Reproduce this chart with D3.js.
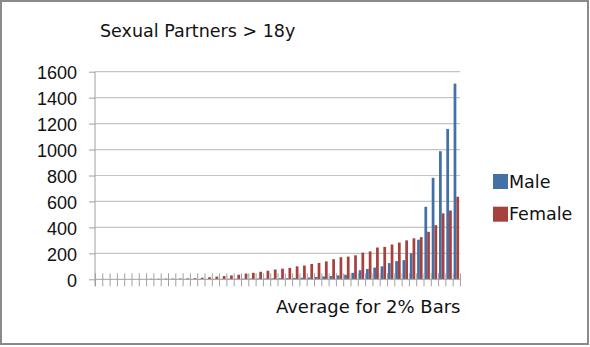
<!DOCTYPE html>
<html lang="en">
<head>
<meta charset="UTF-8" />
<title>Sexual Partners > 18y</title>
<script src="https://d3js.org/d3.v7.min.js"></script>
<style>
  body { margin: 0; background: #fff; }
  svg { display: block; }
  .grid line { stroke: #c4c4c4; stroke-width: 1.2px; }
  .axis path, .axis line { stroke: #a0a0a0; }
  .yaxis text { font-family: "Liberation Sans", Arial, sans-serif; font-size: 18px; fill: #111; }
</style>
</head>
<body>
<script>
// 50 buckets of 2% each, average partners per bucket
const series = ["Male", "Female"];
const colors = ["#4470a8", "#a6413e"];

const male = [
  0, 0, 0, 0, 0, 0, 0, 0, 0, 0,
  1, 1, 1, 2, 2, 2, 3, 3, 4, 4,
  5, 5, 6, 6, 7, 8, 9, 10, 12, 14,
  18, 22, 25, 30, 35, 50, 70, 80, 90, 100,
  125, 140, 148, 200, 305, 559, 782, 987, 1159, 1508
];
const female = [
  0, 0, 0, 0, 0, 0, 0, 4, 4, 5,
  5, 6, 7, 9, 12, 16, 21, 25, 30, 35,
  44, 50, 58, 66, 75, 82, 88, 100, 106, 118,
  126, 138, 155, 170, 175, 185, 205, 215, 245, 250,
  268, 283, 300, 316, 325, 366, 417, 508, 530, 636
];
const yTicks = [0, 200, 400, 600, 800, 1000, 1200, 1400, 1600];

const width = 590, height = 347;
const plot = { left: 95, right: 460, top: 71.7, bottom: 279.3 };

const svg = d3.select("body").append("svg")
  .attr("width", width)
  .attr("height", height);

// cornice
svg.append("rect")
  .attr("x", 1).attr("y", 1)
  .attr("width", 587).attr("height", 343)
  .attr("fill", "#fff")
  .attr("stroke", "#8a8a8a")
  .attr("stroke-width", 2);

const cats = d3.range(male.length);

const x = d3.scaleBand()
  .domain(cats)
  .range([plot.left, plot.right])
  .paddingInner(0.25)
  .paddingOuter(0.125);

const xSub = d3.scaleBand()
  .domain(series)
  .range([0, x.bandwidth()]);

const xEdge = d3.scaleLinear()
  .domain([0, cats.length])
  .range([plot.left, plot.right]);

const y = d3.scaleLinear()
  .domain([0, 1600])
  .range([plot.bottom, plot.top]);

// griglia
svg.append("g")
  .attr("class", "grid")
  .selectAll("line")
  .data(yTicks.slice(1))
  .join("line")
  .attr("x1", plot.left)
  .attr("x2", plot.right)
  .attr("y1", d => y(d))
  .attr("y2", d => y(d));

// barre
const rows = cats.map(i => ({ i, values: [male[i], female[i]] }));

svg.append("g")
  .selectAll("g")
  .data(rows)
  .join("g")
  .attr("transform", d => `translate(${x(d.i)},0)`)
  .selectAll("rect")
  .data(d => d.values.map((v, k) => ({ key: series[k], v, k })))
  .join("rect")
  .attr("x", d => xSub(d.key))
  .attr("width", xSub.bandwidth())
  .attr("y", d => y(d.v))
  .attr("height", d => y(0) - y(d.v))
  .attr("fill", d => colors[d.k]);

// asse y
const yAxis = svg.append("g")
  .attr("class", "axis yaxis")
  .attr("transform", `translate(${plot.left},0)`)
  .call(d3.axisLeft(y).tickValues(yTicks).tickFormat(d3.format("d"))
    .tickSizeInner(6).tickSizeOuter(0).tickPadding(12))
  .call(g => g.select(".domain").attr("d", `M0,${plot.top}V${plot.bottom + 7}`));
yAxis.selectAll("text").attr("dy", "0.4em");

// asse x: tacche incrociate tra le categorie
const xAxis = svg.append("g")
  .attr("class", "axis")
  .attr("transform", `translate(0,${plot.bottom})`)
  .call(d3.axisBottom(xEdge).tickValues(d3.range(0, cats.length + 1)).tickSize(7).tickFormat(""))
  .call(g => g.select(".domain").attr("d", `M${plot.left},0H${plot.right}`));
xAxis.selectAll(".tick line").attr("y1", -6);

// titolo
svg.append("text")
  .attr("x", 100)
  .attr("y", 37)
  .style("font-family", "'DejaVu Sans', Verdana, sans-serif")
  .style("font-size", "17.5px")
  .attr("fill", "#111")
  .text("Sexual Partners > 18y");

svg.append("text")
  .attr("x", plot.right + 0.5)
  .attr("y", 312.5)
  .attr("text-anchor", "end")
  .style("font-family", "'DejaVu Sans', Verdana, sans-serif")
  .style("font-size", "18px")
  .attr("fill", "#111")
  .text("Average for 2% Bars");

// legenda
const legend = svg.append("g")
  .attr("transform", "translate(493,174)");

series.forEach((s, k) => {
  const g = legend.append("g").attr("transform", `translate(0,${k * 32.7})`);
  g.append("rect")
    .attr("width", 15)
    .attr("height", 15)
    .attr("fill", colors[k]);
  g.append("text")
    .attr("x", 16)
    .attr("y", 13.7)
    .style("font-family", "'DejaVu Sans', Verdana, sans-serif")
    .style("font-size", "17.5px")
    .attr("fill", "#111")
    .text(s);
});
</script>
</body>
</html>
